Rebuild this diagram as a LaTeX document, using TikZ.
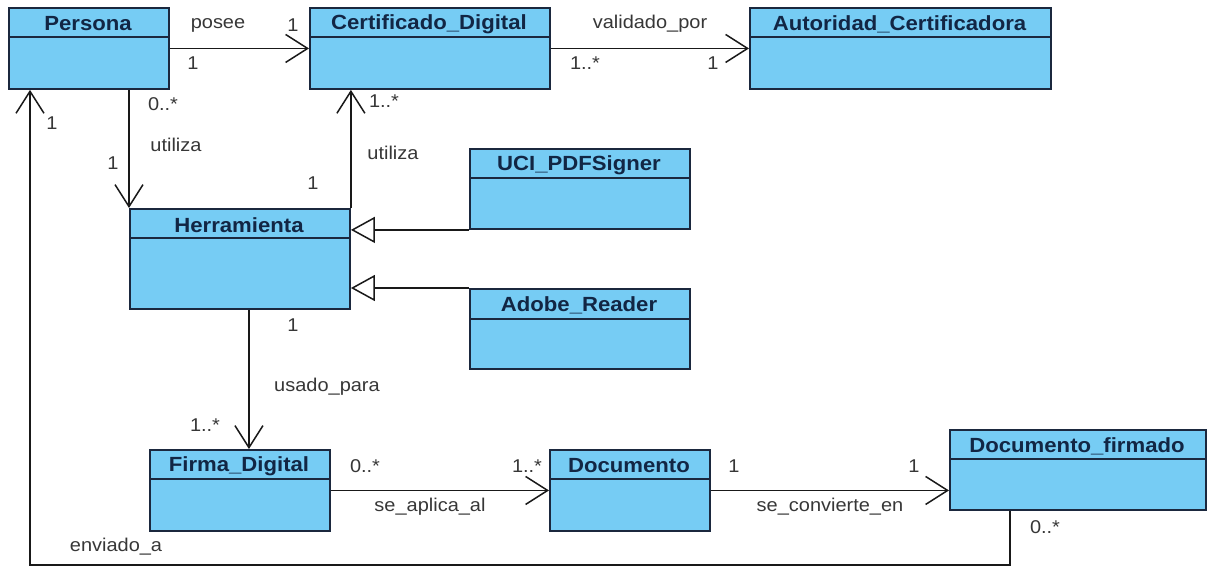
\documentclass[tikz,border=0pt]{standalone}
\usepackage{fontspec}
\setmainfont{Liberation Sans}[FakeStretch=1.08]
\usetikzlibrary{arrows.meta}
\definecolor{clsfill}{RGB}{118,204,244}
\definecolor{clsborder}{RGB}{27,40,62}
\definecolor{clsname}{RGB}{18,38,68}
\definecolor{lbl}{RGB}{55,55,55}
\definecolor{conn}{RGB}{25,25,25}
\tikzset{
  cls/.style={draw=clsborder, fill=clsfill, line width=1.9pt, inner sep=0pt, anchor=north west, rectangle},
  clsline/.style={draw=clsborder, line width=1.7pt},
  clstitle/.style={font=\fontsize{20.5}{24}\selectfont\bfseries, text=clsname, inner sep=0pt},
  lab/.style={font=\fontsize{18.5}{22}\selectfont, text=lbl, inner sep=0pt},
  assoc/.style={draw=conn, line width=1.5pt, -{Straight Barb[length=22pt,width=28pt,line width=1.5pt]}},
  gen/.style={draw=conn, line width=1.5pt, -{Triangle[open,length=24pt,width=26pt,line width=1.5pt,fill=white]}},
  plain/.style={draw=conn, line width=1.5pt}
}
\newcommand{\umlcls}[7]{%
  \node[cls, minimum width={(#5-#3)*1pt}, minimum height={(#6-#4)*1pt}] (#1) at (#3,#4) {};
  \draw[clsline] (#1.west |- 0,#7) -- (#1.east |- 0,#7);
  \node[clstitle] (#1-t) at ({(#3+#5)/2},{(#4+#7)/2+2}) {#2};
}
\begin{document}
\begin{tikzpicture}[x=1pt,y=-1pt]
\useasboundingbox[fill=white] (0,0) rectangle (1209,569);
% classes
\umlcls{persona}{Persona}{8}{7}{168}{88}{37}
\umlcls{cert}{Certificado\_Digital}{309}{7}{549}{88}{37}
\umlcls{auto}{Autoridad\_Certificadora}{749}{7}{1050}{88}{37}
\umlcls{herr}{Herramienta}{129}{208}{349}{308}{238}
\umlcls{uci}{UCI\_PDFSigner}{469}{148}{689}{228}{178}
\umlcls{adobe}{Adobe\_Reader}{469}{288}{689}{368}{319}
\umlcls{firma}{Firma\_Digital}{149}{449}{329}{530}{479}
\umlcls{doc}{Documento}{549}{449}{709}{530}{479}
\umlcls{docf}{Documento\_firmado}{949}{429}{1205}{509}{459}
% connectors
\draw[assoc] (persona.east) -- (cert.west);
\draw[assoc] (cert.east) -- (auto.west);
\draw[assoc] (persona.south -| herr.north west) -- (herr.north west);
\draw[assoc] (herr.north east) -- (herr.north east |- cert.south);
\draw[gen] (uci.south west) -- (uci.south west -| herr.east);
\draw[gen] (adobe.north west) -- (adobe.north west -| herr.east);
\draw[assoc] ([xshift=9pt]herr.south) -- ([xshift=9pt]firma.north);
\draw[assoc] (firma.east) -- (doc.west);
\draw[assoc] (doc.east) -- (doc.east -| docf.west);
\coordinate (c1) at (1010,565);
\coordinate (c2) at (30,565);
\draw[assoc] (docf.south -| c1) -- (c1) -- (c2) -- (c2 |- persona.south);
% labels
\node[lab] (l1) at (218,25) {posee};
\node[lab] (l2) at (293,25) {1};
\node[lab] (l3) at (193,63) {1};
\node[lab] (l4) at (163,104) {0..*};
\node[lab] (l5) at (52,123) {1};
\node[lab] (l6) at (384,101) {1..*};
\node[lab] (l7) at (393,153) {utiliza};
\node[lab] (l8) at (650,24) {validado\_por};
\node[lab] (l9) at (585,63) {1..*};
\node[lab] (l10) at (713,63) {1};
\node[lab] (l11) at (176,145) {utiliza};
\node[lab] (l12) at (113,163) {1};
\node[lab] (l13) at (313,183) {1};
\node[lab] (l14) at (293,325) {1};
\node[lab] (l15) at (327,387) {usado\_para};
\node[lab] (l16) at (205,425) {1..*};
\node[lab] (l17) at (365,466) {0..*};
\node[lab] (l18) at (527,466) {1..*};
\node[lab] (l19) at (430,507) {se\_aplica\_al};
\node[lab] (l20) at (116,547) {enviado\_a};
\node[lab] (l21) at (734,466) {1};
\node[lab] (l22) at (914,466) {1};
\node[lab] (l23) at (830,507) {se\_convierte\_en};
\node[lab] (l24) at (1045,527) {0..*};
\end{tikzpicture}
\end{document}
